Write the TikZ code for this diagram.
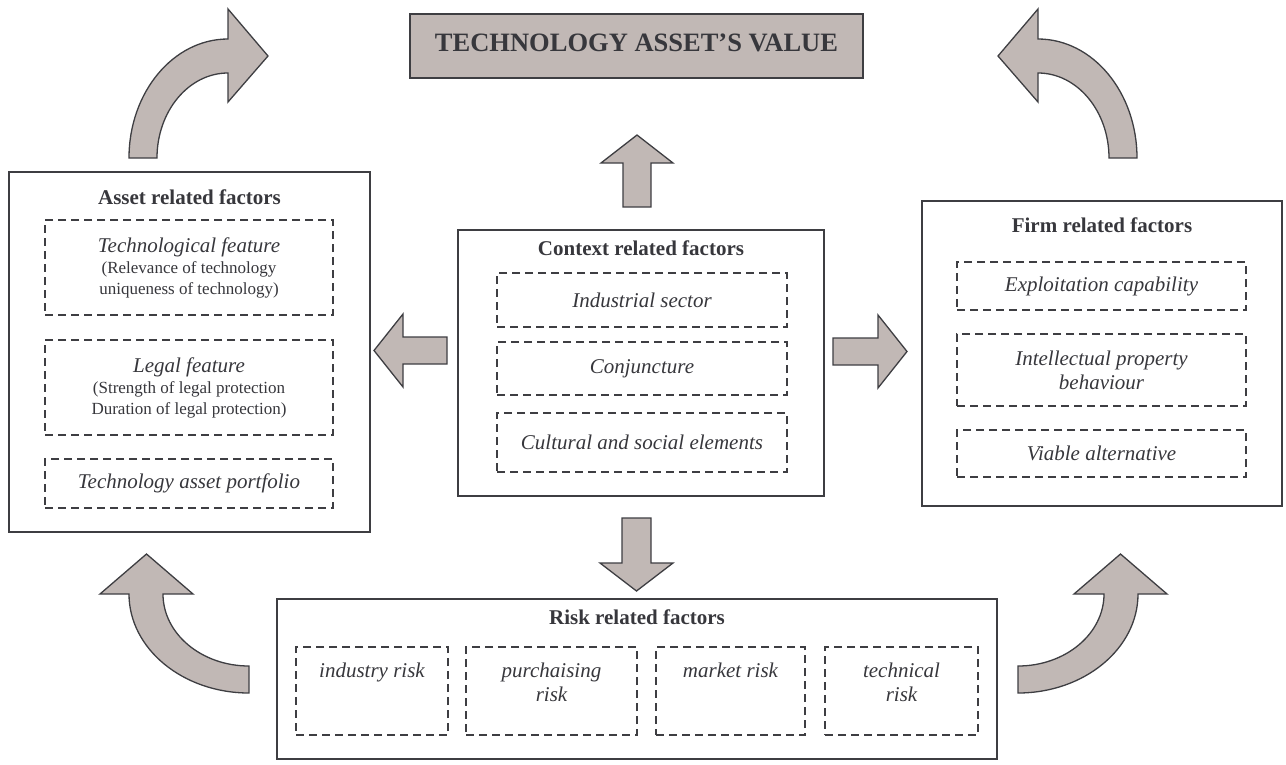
\documentclass[tikz,border=0pt]{standalone}
\usepackage{fontspec}
\setmainfont{Liberation Serif}

\definecolor{arrowfill}{RGB}{193,184,181}
\definecolor{linegray}{RGB}{62,62,66}
\definecolor{textgray}{RGB}{55,55,60}

\newcommand{\factorfont}{\fontsize{21}{24}\selectfont\itshape}
\newcommand{\notefont}{\upshape\fontsize{17}{21}\selectfont}

\tikzset{
        outerbox/.style={draw=linegray, line width=1.8pt, fill=white, inner sep=0pt},
        dashbox/.style={draw=linegray, line width=1.5pt, dash pattern=on 8pt off 5pt,
                align=flush center, font=\factorfont, text=textgray, inner sep=0pt},
        boxtitle/.style={font=\bfseries\fontsize{21}{24}\selectfont, text=textgray, inner sep=0pt},
        risktext/.style={font=\factorfont, text=textgray, align=center, inner sep=0pt, anchor=north},
        shapearrow/.style={draw=linegray, fill=arrowfill, line width=1.3pt, line join=miter}
}

\begin{document}
\begin{tikzpicture}[x=1pt, y=-1pt]

        \useasboundingbox (0,0) rectangle (1286,764);

        % Value box
        \node[draw=linegray, fill=arrowfill, line width=1.5pt, minimum width=453pt, minimum height=64pt,
                text height=17.5pt, text depth=7pt, inner sep=0pt,
                font=\bfseries\fontsize{26.5}{30}\selectfont, text=textgray] (value) at (636.5,46) {TECHNOLOGY ASSET'S VALUE};

        % Asset related factors
        \node[outerbox, minimum width=361pt, minimum height=360pt] (asset) at (189.5,352) {};
        \node[boxtitle] (assettitle) at (189.5,197) {Asset related factors};
        \node[dashbox, minimum width=288pt, minimum height=95pt, text width=288pt] (techfeat) at (189,267.5)
                {{Technological feature\par}{\notefont (Relevance of technology\\ uniqueness of technology)\par}};
        \node[dashbox, minimum width=288pt, minimum height=95pt, text width=288pt] (legalfeat) at (189,387.5)
                {{Legal feature\par}{\notefont (Strength of legal protection\\ Duration of legal protection)\par}};
        \node[dashbox, minimum width=288pt, minimum height=49pt] (portfolio) at (189,483.5) {Technology asset portfolio};

        % Context related factors
        \node[outerbox, minimum width=366pt, minimum height=266pt] (context) at (641,363) {};
        \node[boxtitle] (contexttitle) at (641,248) {Context related factors};
        \node[dashbox, minimum width=290pt, minimum height=54pt] (sector) at (642,300) {Industrial sector};
        \node[dashbox, minimum width=290pt, minimum height=53pt] (conjuncture) at (642,368.5) {Conjuncture};
        \node[dashbox, minimum width=290pt, minimum height=59pt] (cultural) at (642,442.5) {Cultural and social elements};

        % Firm related factors
        \node[outerbox, minimum width=360pt, minimum height=305pt] (firm) at (1102,353.5) {};
        \node[boxtitle] (firmtitle) at (1102,225) {Firm related factors};
        \node[dashbox, minimum width=289pt, minimum height=48pt] (exploit) at (1101.5,286) {Exploitation capability};
        \node[dashbox, minimum width=289pt, minimum height=72pt] (ipbehav) at (1101.5,370) {Intellectual property\\ behaviour};
        \node[dashbox, minimum width=289pt, minimum height=47pt] (viable) at (1101.5,453.5) {Viable alternative};

        % Risk related factors
        \node[outerbox, minimum width=720pt, minimum height=160pt] (risk) at (637,679) {};
        \node[boxtitle] (risktitle) at (637,617) {Risk related factors};
        \node[dashbox, minimum width=152pt, minimum height=88pt] (indrisk) at (372,691) {};
        \node[dashbox, minimum width=171pt, minimum height=88pt] (purchrisk) at (551.5,691) {};
        \node[dashbox, minimum width=149pt, minimum height=88pt] (marketrisk) at (730.5,691) {};
        \node[dashbox, minimum width=153pt, minimum height=88pt] (techrisk) at (901.5,691) {};
        \node[risktext] (indrisklabel) at ([yshift=-16pt]indrisk.north) {industry risk};
        \node[risktext] (purchrisklabel) at ([yshift=-16pt]purchrisk.north) {purchaising\\ risk};
        \node[risktext] (marketrisklabel) at ([yshift=-16pt]marketrisk.north) {market risk};
        \node[risktext] (techrisklabel) at ([yshift=-16pt]techrisk.north) {technical\\ risk};

        % Straight arrows out of the context box
        \draw[shapearrow] (637,135) -- (673,163) -- (651,163) -- (651,207) -- (623,207) -- (623,163) -- (601,163) -- cycle;
        \draw[shapearrow] (374,350.5) -- (403,314) -- (403,337) -- (447,337) -- (447,364) -- (403,364) -- (403,387) -- cycle;
        \draw[shapearrow] (907,351.5) -- (878,388) -- (878,365) -- (833,365) -- (833,338) -- (878,338) -- (878,315) -- cycle;
        \draw[shapearrow] (636.5,591) -- (673,563) -- (651,563) -- (651,518) -- (622,518) -- (622,563) -- (600,563) -- cycle;

        % Curved arrows, top
        \draw[shapearrow] (129,158) .. controls (129,92.3) and (173.3,39) .. (228,39) -- (228,9) -- (268,56)
                -- (228,102) -- (228,73) .. controls (188.8,73) and (157,111.1) .. (157,158) -- cycle;
        \draw[shapearrow] (1137,158) .. controls (1137,92.3) and (1092.7,39) .. (1038,39) -- (1038,9) -- (998,56)
                -- (1038,102) -- (1038,73) .. controls (1077.2,73) and (1109,111.1) .. (1109,158) -- cycle;

        % Curved arrows, bottom
        \draw[shapearrow] (249,693) .. controls (182.8,693) and (129,648.6) .. (129,594) -- (100,594) -- (146.5,554)
                -- (193,594) -- (163,594) .. controls (163,633.7) and (201.5,666) .. (249,666) -- cycle;
        \draw[shapearrow] (1018,693) .. controls (1084.2,693) and (1138,648.6) .. (1138,594) -- (1167,594) -- (1120.5,554)
                -- (1074,594) -- (1104,594) .. controls (1104,633.7) and (1065.5,666) .. (1018,666) -- cycle;

\end{tikzpicture}
\end{document}
